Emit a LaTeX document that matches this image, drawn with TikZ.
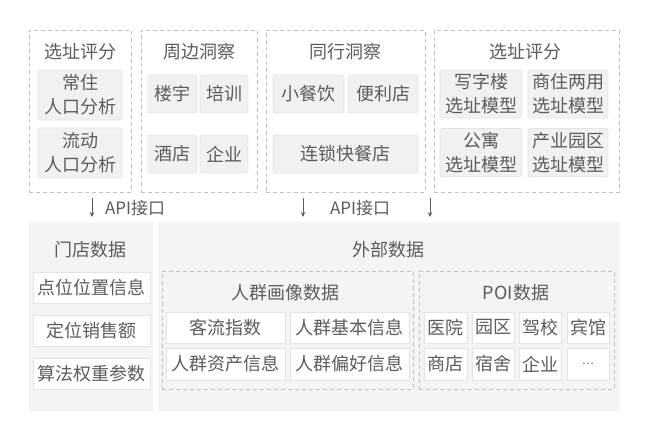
\documentclass[tikz,border=0pt]{standalone}
\usepackage{fontspec}
\setmainfont{Noto Sans CJK SC}
\usepackage{xcolor}
\definecolor{inkgray}{RGB}{92,92,92}
\definecolor{dashgray}{RGB}{192,192,192}
\definecolor{cellgray}{RGB}{241,241,241}
\definecolor{panelgray}{RGB}{244,244,244}
\definecolor{edgegray}{RGB}{228,228,228}
\usepackage{tikz}
\usetikzlibrary{positioning}
\usetikzlibrary{arrows.meta}
\begin{document}
\begin{tikzpicture}[x=1pt,y=-1pt,every node/.style={text=inkgray,font=\fontsize{18}{24}\selectfont,inner sep=0pt,outer sep=0pt,align=center},
dashbox/.style={draw=dashgray,line width=0.8pt,dash pattern=on 4pt off 3pt,minimum height=162pt},
panel/.style={fill=panelgray,minimum height=189pt},
inbox/.style={draw=dashgray,line width=0.8pt,dash pattern=on 4pt off 3pt,minimum height=118pt},
topcell/.style={fill=cellgray,draw=edgegray,line width=0.6pt,rounded corners=2pt},
botcell/.style={fill=white,draw=edgegray,line width=0.6pt,minimum height=31pt},
apiarrow/.style={draw=inkgray,line width=1pt,-{Stealth[length=5pt,width=4.5pt]}}]
\useasboundingbox (0,0) rectangle (650,440);
% top row
\node[dashbox,minimum width=102pt] (scoreA) at (80,111) {};
\node (scoreAtitle) at (80,52) {选址评分};
\node[topcell,minimum width=84pt,minimum height=50pt] (resident) at (80,95) {常住\\人口分析};
\node[topcell,minimum width=84pt,minimum height=50pt] (floating) at (80,153) {流动\\人口分析};

\node[dashbox,minimum width=116pt] (around) at (199,111) {};
\node (aroundtitle) at (199,52) {周边洞察};
\node[topcell,minimum width=49pt,minimum height=38pt] (building) at (172.5,94) {楼宇};
\node[topcell,minimum width=48pt,minimum height=38pt] (training) at (224,94) {培训};
\node[topcell,minimum width=49pt,minimum height=38pt] (hotel) at (172.5,154) {酒店};
\node[topcell,minimum width=48pt,minimum height=38pt] (company) at (224,154) {企业};

\node[dashbox,minimum width=159pt] (peer) at (345.5,111) {};
\node (peertitle) at (345.5,52) {同行洞察};
\node[topcell,minimum width=71pt,minimum height=38pt] (snack) at (308.5,94) {小餐饮};
\node[topcell,minimum width=70pt,minimum height=38pt] (store) at (383,94) {便利店};
\node[topcell,minimum width=145pt,minimum height=38pt] (chain) at (345.5,154) {连锁快餐店};

\node[dashbox,minimum width=185pt] (scoreB) at (526.5,111) {};
\node (scoreBtitle) at (525,52) {选址评分};
\node[topcell,minimum width=82pt,minimum height=48pt] (office) at (481,94) {写字楼\\选址模型};
\node[topcell,minimum width=80pt,minimum height=48pt] (mixed) at (568,94) {商住两用\\选址模型};
\node[topcell,minimum width=82pt,minimum height=48pt] (apart) at (481,152.5) {公寓\\选址模型};
\node[topcell,minimum width=80pt,minimum height=48pt] (park) at (568,152.5) {产业园区\\选址模型};

% api arrows
\coordinate (a1s) at (92,198); \coordinate (a1e) at (92,217);
\coordinate (a2s) at (303,198); \coordinate (a2e) at (303,217);
\coordinate (a3s) at (430,198); \coordinate (a3e) at (430,217);
\draw[apiarrow] (a1s) -- (a1e);
\draw[apiarrow] (a2s) -- (a2e);
\draw[apiarrow] (a3s) -- (a3e);
\node[anchor=west,font=\fontsize{17}{20}\selectfont] (api1) at (105,208) {API接口};
\node[anchor=west,font=\fontsize{17}{20}\selectfont] (api2) at (330,208) {API接口};

% bottom row
\node[panel,minimum width=124pt] (shop) at (91,316.5) {};
\node (shoptitle) at (90.5,250) {门店数据};
\node[botcell,minimum width=117pt] (point) at (91.5,287.5) {点位位置信息};
\node[botcell,minimum width=117pt] (sales) at (91.5,330.5) {定位销售额};
\node[botcell,minimum width=117pt] (weight) at (91.5,373.5) {算法权重参数};

\node[panel,minimum width=462pt] (outer) at (389,316.5) {};
\node (outertitle) at (388,250) {外部数据};

\node[inbox,minimum width=251pt] (crowd) at (287.5,330) {};
\node (crowdtitle) at (285.5,293) {人群画像数据};
\node[botcell,minimum width=119pt] (flow) at (225.5,327.5) {客流指数};
\node[botcell,minimum width=119pt] (basic) at (349.5,327.5) {人群基本信息};
\node[botcell,minimum width=119pt,minimum height=32pt] (asset) at (225.5,364) {人群资产信息};
\node[botcell,minimum width=119pt,minimum height=32pt] (prefer) at (349.5,364) {人群偏好信息};

\node[inbox,minimum width=195pt] (poi) at (516.5,330) {};
\node (poititle) at (516,293) {POI数据};
\node[botcell,minimum width=43pt] (hospital) at (445.5,327.5) {医院};
\node[botcell,minimum width=42pt] (campus) at (493,327.5) {园区};
\node[botcell,minimum width=42pt] (driving) at (540,327.5) {驾校};
\node[botcell,minimum width=42pt] (inn) at (588,327.5) {宾馆};
\node[botcell,minimum width=43pt,minimum height=32pt] (shopping) at (445.5,364) {商店};
\node[botcell,minimum width=42pt,minimum height=32pt] (dorm) at (493,364) {宿舍};
\node[botcell,minimum width=42pt,minimum height=32pt] (firm) at (540,364) {企业};
\node[botcell,minimum width=42pt,minimum height=32pt,font=\fontsize{11}{12}\selectfont] (more) at (588,364) {⋯};
\end{tikzpicture}
\end{document}
